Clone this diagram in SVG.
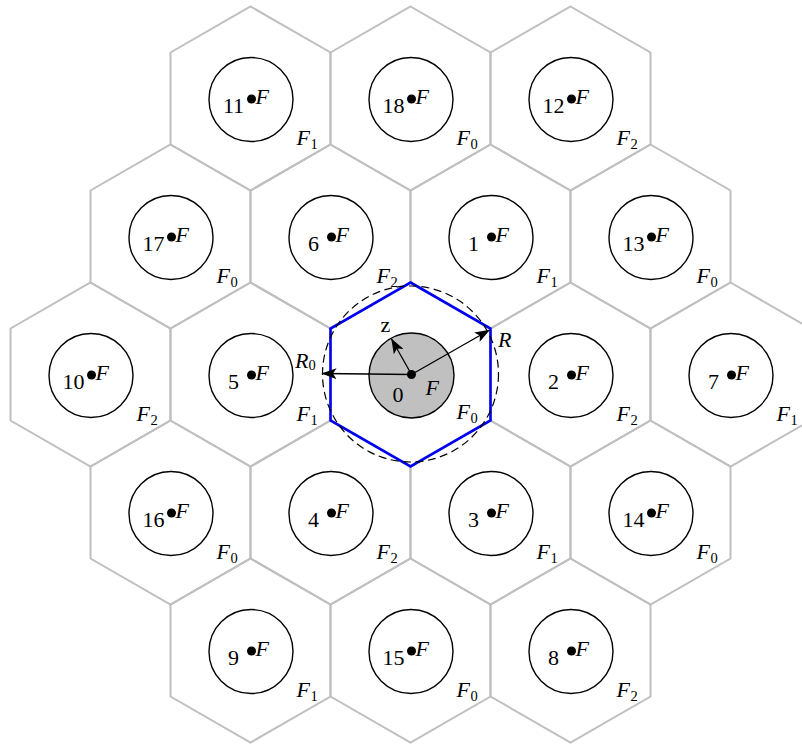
<svg xmlns="http://www.w3.org/2000/svg" xmlns:xlink="http://www.w3.org/1999/xlink" width="802" height="744" viewBox="0 0 802 744">
<style>
.hex{fill:none;stroke:#bfbfbf;stroke-width:2}
.blue{fill:none;stroke:#0000f0;stroke-width:2.6}
.cir{fill:none;stroke:#000;stroke-width:1.4}
.gray{fill:#c0c0c0;stroke:#000;stroke-width:1.4}
.dash{fill:none;stroke:#000;stroke-width:1.2;stroke-dasharray:8 4.5}
.dot{fill:#000}
text{font-family:"Liberation Serif","Times New Roman",serif;font-size:22px;fill:#000}
.num{text-anchor:middle}
.it{font-style:italic}
.sub{font-size:14.5px}
.arr{stroke:#000;stroke-width:1.3;fill:none;marker-end:url(#ah)}
</style>
<defs>
<path id="hex" class="hex" d="M0,-92 L80,-46 L80,46 L0,92 L-80,46 L-80,-46 Z"/>
<marker id="ah" viewBox="0 0 15 11" refX="14.5" refY="5.5" markerWidth="15" markerHeight="11" markerUnits="userSpaceOnUse" orient="auto">
<path d="M0,0 L15,5.5 L0,11 L3.5,5.5 Z" fill="#000"/>
</marker>
</defs>

<g id="cell-11" transform="translate(250.5,98.5)"><use href="#hex"/><circle class="cir" cx="0.5" cy="1" r="42"/><circle class="dot" cx="1" cy="0.5" r="4.5"/><text class="num" x="-17" y="14">11</text><text class="it" x="5" y="5">F</text><text class="it" x="46" y="46">F</text><text class="sub" x="60" y="50">1</text></g>
<g id="cell-18" transform="translate(410.5,98.5)"><use href="#hex"/><circle class="cir" cx="0.5" cy="1" r="42"/><circle class="dot" cx="1" cy="0.5" r="4.5"/><text class="num" x="-17" y="14">18</text><text class="it" x="5" y="5">F</text><text class="it" x="46" y="46">F</text><text class="sub" x="60" y="50">0</text></g>
<g id="cell-12" transform="translate(570.5,98.5)"><use href="#hex"/><circle class="cir" cx="0.5" cy="1" r="42"/><circle class="dot" cx="1" cy="0.5" r="4.5"/><text class="num" x="-17" y="14">12</text><text class="it" x="5" y="5">F</text><text class="it" x="46" y="46">F</text><text class="sub" x="60" y="50">2</text></g>

<g id="cell-17" transform="translate(170.5,236.5)"><use href="#hex"/><circle class="cir" cx="0.5" cy="1" r="42"/><circle class="dot" cx="1" cy="0.5" r="4.5"/><text class="num" x="-17" y="14">17</text><text class="it" x="5" y="5">F</text><text class="it" x="46" y="46">F</text><text class="sub" x="60" y="50">0</text></g>
<g id="cell-6" transform="translate(330.5,236.5)"><use href="#hex"/><circle class="cir" cx="0.5" cy="1" r="42"/><circle class="dot" cx="1" cy="0.5" r="4.5"/><text class="num" x="-17" y="14">6</text><text class="it" x="5" y="5">F</text><text class="it" x="46" y="46">F</text><text class="sub" x="60" y="50">2</text></g>
<g id="cell-1" transform="translate(490.5,236.5)"><use href="#hex"/><circle class="cir" cx="0.5" cy="1" r="42"/><circle class="dot" cx="1" cy="0.5" r="4.5"/><text class="num" x="-17" y="14">1</text><text class="it" x="5" y="5">F</text><text class="it" x="46" y="46">F</text><text class="sub" x="60" y="50">1</text></g>
<g id="cell-13" transform="translate(650.5,236.5)"><use href="#hex"/><circle class="cir" cx="0.5" cy="1" r="42"/><circle class="dot" cx="1" cy="0.5" r="4.5"/><text class="num" x="-17" y="14">13</text><text class="it" x="5" y="5">F</text><text class="it" x="46" y="46">F</text><text class="sub" x="60" y="50">0</text></g>

<g id="cell-10" transform="translate(90.5,374.5)"><use href="#hex"/><circle class="cir" cx="0.5" cy="1" r="42"/><circle class="dot" cx="1" cy="0.5" r="4.5"/><text class="num" x="-17" y="14">10</text><text class="it" x="5" y="5">F</text><text class="it" x="46" y="46">F</text><text class="sub" x="60" y="50">2</text></g>
<g id="cell-5" transform="translate(250.5,374.5)"><use href="#hex"/><circle class="cir" cx="0.5" cy="1" r="42"/><circle class="dot" cx="1" cy="0.5" r="4.5"/><text class="num" x="-17" y="14">5</text><text class="it" x="5" y="5">F</text><text class="it" x="46" y="46">F</text><text class="sub" x="60" y="50">1</text></g>
<g id="cell-2" transform="translate(570.5,374.5)"><use href="#hex"/><circle class="cir" cx="0.5" cy="1" r="42"/><circle class="dot" cx="1" cy="0.5" r="4.5"/><text class="num" x="-17" y="14">2</text><text class="it" x="5" y="5">F</text><text class="it" x="46" y="46">F</text><text class="sub" x="60" y="50">2</text></g>
<g id="cell-7" transform="translate(730.5,374.5)"><use href="#hex"/><circle class="cir" cx="0.5" cy="1" r="42"/><circle class="dot" cx="1" cy="0.5" r="4.5"/><text class="num" x="-17" y="14">7</text><text class="it" x="5" y="5">F</text><text class="it" x="46" y="46">F</text><text class="sub" x="60" y="50">1</text></g>

<g id="cell-16" transform="translate(170.5,512.5)"><use href="#hex"/><circle class="cir" cx="0.5" cy="1" r="42"/><circle class="dot" cx="1" cy="0.5" r="4.5"/><text class="num" x="-17" y="14">16</text><text class="it" x="5" y="5">F</text><text class="it" x="46" y="46">F</text><text class="sub" x="60" y="50">0</text></g>
<g id="cell-4" transform="translate(330.5,512.5)"><use href="#hex"/><circle class="cir" cx="0.5" cy="1" r="42"/><circle class="dot" cx="1" cy="0.5" r="4.5"/><text class="num" x="-17" y="14">4</text><text class="it" x="5" y="5">F</text><text class="it" x="46" y="46">F</text><text class="sub" x="60" y="50">2</text></g>
<g id="cell-3" transform="translate(490.5,512.5)"><use href="#hex"/><circle class="cir" cx="0.5" cy="1" r="42"/><circle class="dot" cx="1" cy="0.5" r="4.5"/><text class="num" x="-17" y="14">3</text><text class="it" x="5" y="5">F</text><text class="it" x="46" y="46">F</text><text class="sub" x="60" y="50">1</text></g>
<g id="cell-14" transform="translate(650.5,512.5)"><use href="#hex"/><circle class="cir" cx="0.5" cy="1" r="42"/><circle class="dot" cx="1" cy="0.5" r="4.5"/><text class="num" x="-17" y="14">14</text><text class="it" x="5" y="5">F</text><text class="it" x="46" y="46">F</text><text class="sub" x="60" y="50">0</text></g>

<g id="cell-9" transform="translate(250.5,650.5)"><use href="#hex"/><circle class="cir" cx="0.5" cy="1" r="42"/><circle class="dot" cx="1" cy="0.5" r="4.5"/><text class="num" x="-17" y="14">9</text><text class="it" x="5" y="5">F</text><text class="it" x="46" y="46">F</text><text class="sub" x="60" y="50">1</text></g>
<g id="cell-15" transform="translate(410.5,650.5)"><use href="#hex"/><circle class="cir" cx="0.5" cy="1" r="42"/><circle class="dot" cx="1" cy="0.5" r="4.5"/><text class="num" x="-17" y="14">15</text><text class="it" x="5" y="5">F</text><text class="it" x="46" y="46">F</text><text class="sub" x="60" y="50">0</text></g>
<g id="cell-8" transform="translate(570.5,650.5)"><use href="#hex"/><circle class="cir" cx="0.5" cy="1" r="42"/><circle class="dot" cx="1" cy="0.5" r="4.5"/><text class="num" x="-17" y="14">8</text><text class="it" x="5" y="5">F</text><text class="it" x="46" y="46">F</text><text class="sub" x="60" y="50">2</text></g>

<g id="cell-0" transform="translate(410.5,374.5)">
<path class="blue" d="M0,-92 L80,-46 L80,46 L0,92 L-80,46 L-80,-46 Z"/>
<circle class="dash" cx="0" cy="-0.5" r="88"/>
<circle class="gray" cx="1" cy="1" r="42.5"/>
<circle class="dot" cx="1" cy="0" r="4.5"/>
<text class="num" x="-12.5" y="27">0</text>
<text class="it" x="15" y="20.5">F</text>
<text class="it" x="46" y="44">F</text><text class="sub" x="60" y="48">0</text>
</g>

<g id="connectors">
<line class="arr" x1="411.5" y1="374.5" x2="322" y2="373.5"/>
<line class="arr" x1="411.5" y1="374.5" x2="489.5" y2="330"/>
<line class="arr" x1="411.5" y1="374.5" x2="391.5" y2="339"/>
</g>

<g id="labels">
<text class="it" x="295" y="368">R</text><text class="sub" x="308.5" y="370">0</text>
<text class="it" x="498" y="347">R</text>
<text x="380.5" y="332">z</text>
</g>
</svg>
